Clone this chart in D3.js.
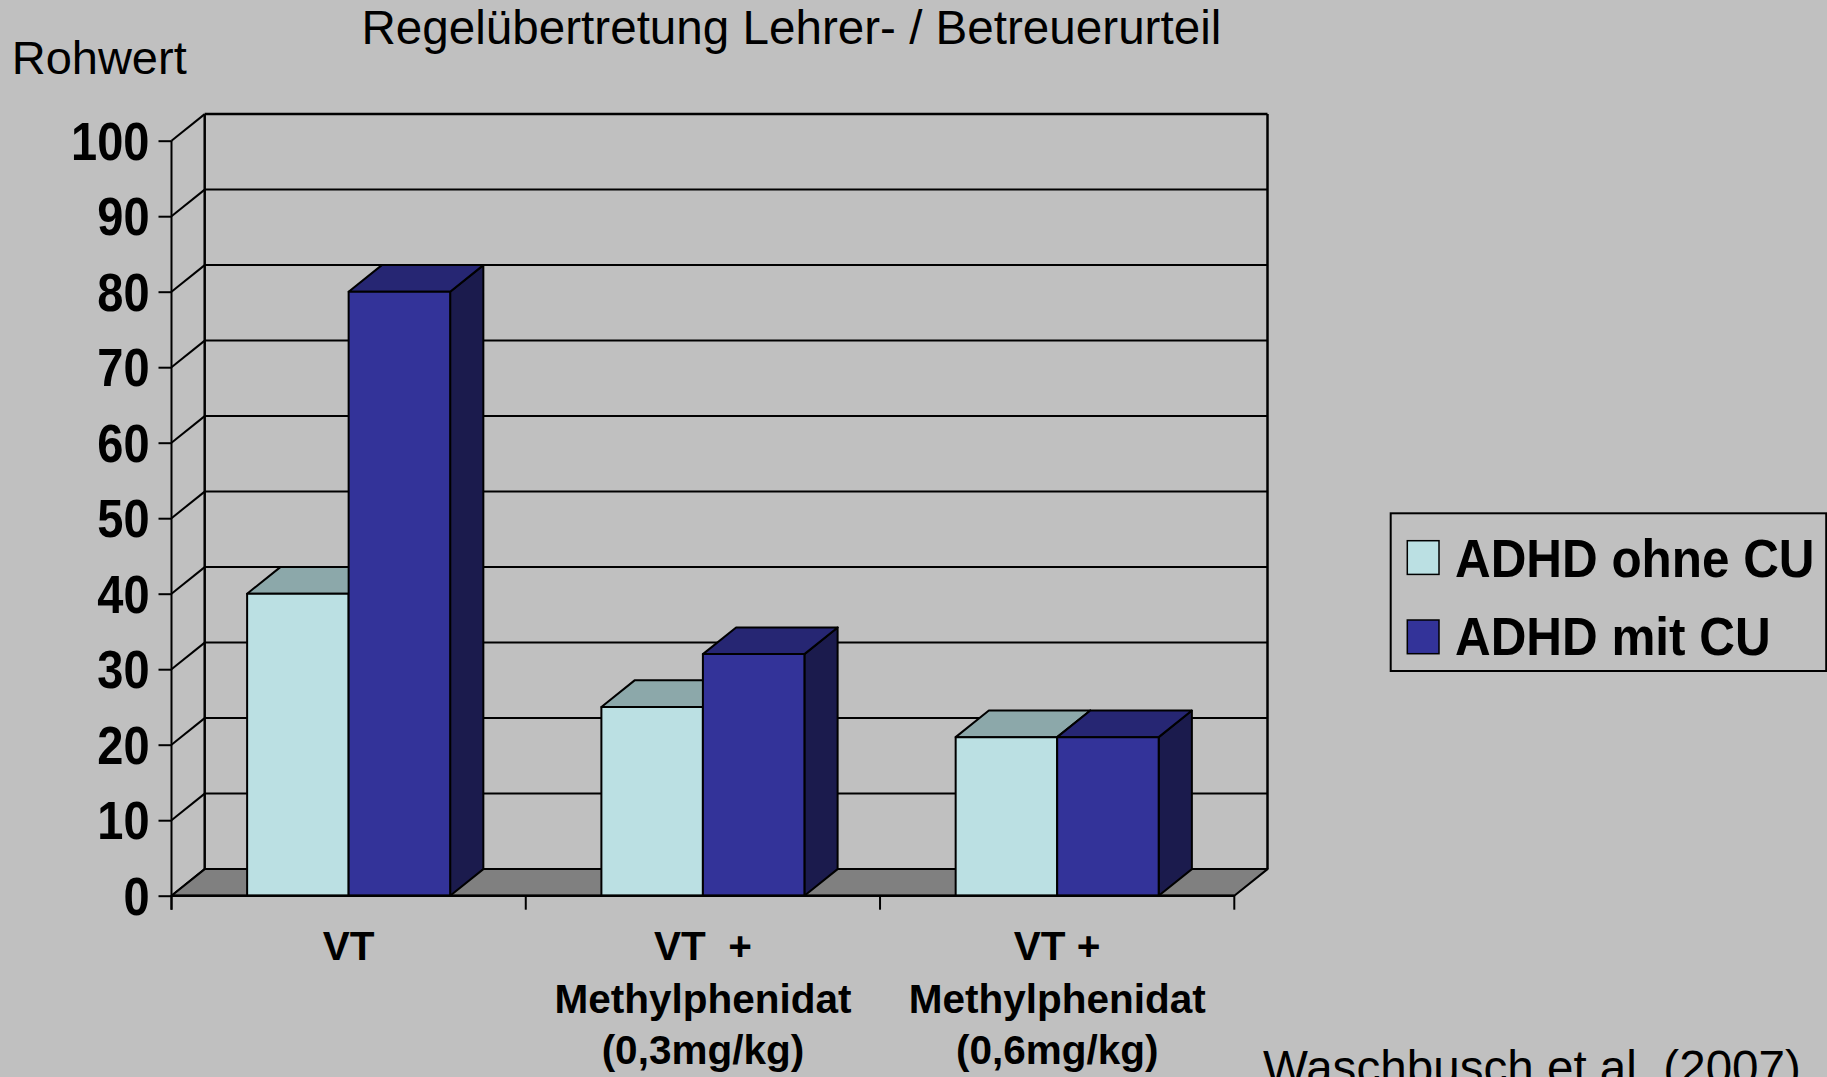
<!DOCTYPE html>
<html>
<head>
<meta charset="utf-8">
<script src="https://cdn.jsdelivr.net/npm/d3@7"></script>
<style>
  html, body { margin: 0; padding: 0; background: #c0c0c0; }
  svg { display: block; font-family: "Liberation Sans", Arial, sans-serif; }
</style>
</head>
<body>
<svg id="chart" width="1827" height="1077"></svg>
<script>
// chart data
var categoryLabels = [
    ["VT"],
    ["VT  +", "Methylphenidat", "(0,3mg/kg)"],
    ["VT +", "Methylphenidat", "(0,6mg/kg)"]
];
var seriesNames = ["ADHD ohne CU", "ADHD mit CU"];
var ohneCU = [40, 25, 21];
var mitCU = [80, 32, 21];
var yTicks = [0, 10, 20, 30, 40, 50, 60, 70, 80, 90, 100];

var titleText = "Regelübertretung Lehrer- / Betreuerurteil";
var yLabel = "Rohwert";
var sourceText = "Waschbusch et al. (2007)";

/*
 * Layout of the 3d box.
 */
var plot_left = 171.5, plot_right = 1234.3;
var plot_bottom = 895.7, plot_top = 140.7;
var depth_x = 33.2, depth_y = -26.6;

// colours: front, top, side
var colors = {
    "ADHD ohne CU": ["#bbe0e3", "#8ca8aa", "#6e8486"],
    "ADHD mit CU": ["#333399", "#262673", "#1b1b4d"]
};

var svg = d3.select("#chart");

var y = d3.scaleLinear().domain([0, 100]).range([plot_bottom, plot_top]);
var x = d3.scaleBand()
    .domain(d3.range(categoryLabels.length))
    .range([plot_left, plot_right])
    .padding(0);
var xs = d3.scaleBand()
    .domain(seriesNames)
    .range([0, x.bandwidth()])
    .paddingInner(0)
    .paddingOuter(0.745);

// back wall grid lines
svg.selectAll()
    .data(yTicks)
    .enter()
    .append("line")
    .attr("x1", plot_left + depth_x)
    .attr("x2", plot_right + depth_x)
    .attr("y1", function(d) { return y(d) + depth_y; })
    .attr("y2", function(d) { return y(d) + depth_y; })
    .attr("stroke", "#000")
    .attr("stroke-width", function(d) { return d == 100 ? 2.5 : 2; });

// left wall diagonals
svg.selectAll()
    .data(yTicks)
    .enter()
    .append("line")
    .attr("x1", plot_left)
    .attr("x2", plot_left + depth_x)
    .attr("y1", function(d) { return y(d); })
    .attr("y2", function(d) { return y(d) + depth_y; })
    .attr("stroke", "#000")
    .attr("stroke-width", 2);

// back wall edges
[plot_left + depth_x, plot_right + depth_x].forEach(function(xx) {
    svg.append("line")
        .attr("x1", xx).attr("x2", xx)
        .attr("y1", y(100) + depth_y)
        .attr("y2", y(0) + depth_y)
        .attr("stroke", "#000")
        .attr("stroke-width", 2.5);
});

// floor
svg.append("polygon")
    .attr("points", [
        [plot_left, y(0)], [plot_right, y(0)],
        [plot_right + depth_x, y(0) + depth_y], [plot_left + depth_x, y(0) + depth_y]
    ].join(" "))
    .attr("fill", "#808080")
    .attr("stroke", "#000")
    .attr("stroke-width", 2)
    .attr("stroke-linejoin", "round");

// bars
var barData = [];
categoryLabels.forEach(function(c, i) {
    barData.push({cat: i, series: seriesNames[0], value: ohneCU[i]});
    barData.push({cat: i, series: seriesNames[1], value: mitCU[i]});
});

var w = xs.bandwidth();
barData.forEach(function(d) {
    var bx = x(d.cat) + xs(d.series);
    var by = y(d.value);
    var b0 = y(0);
    var col = colors[d.series];
    var g = svg.append("g")
        .attr("stroke", "#000")
        .attr("stroke-width", 2)
        .attr("stroke-linejoin", "round");

    // side
    g.append("polygon")
        .attr("points", [
            [bx + w, b0], [bx + w, by],
            [bx + w + depth_x, by + depth_y], [bx + w + depth_x, b0 + depth_y]
        ].join(" "))
        .attr("fill", col[2]);
    // top
    g.append("polygon")
        .attr("points", [
            [bx, by], [bx + w, by],
            [bx + w + depth_x, by + depth_y], [bx + depth_x, by + depth_y]
        ].join(" "))
        .attr("fill", col[1]);
    // front
    g.append("rect")
        .attr("x", bx)
        .attr("y", by)
        .attr("width", w)
        .attr("height", b0 - by)
        .attr("fill", col[0]);
});

// front floor edge
svg.append("line")
    .attr("x1", plot_left).attr("x2", plot_right)
    .attr("y1", y(0)).attr("y2", y(0))
    .attr("stroke", "#000")
    .attr("stroke-width", 2.5);

// value axis
var yAxis = svg.append("g")
    .attr("transform", "translate(" + plot_left + ",0)")
    .call(d3.axisLeft(y).tickValues(yTicks).tickSize(13).tickSizeOuter(0));
yAxis.select(".domain").remove();
yAxis.selectAll(".tick line").attr("stroke", "#000").attr("stroke-width", 2);
yAxis.selectAll(".tick text")
    .attr("font-family", "\"Liberation Sans\", Arial, sans-serif")
    .attr("font-size", 54)
    .attr("font-weight", "bold")
    .attr("fill", "#000")
    .attr("transform", "scale(0.87,1)")
    .attr("x", -22 / 0.87)
    .attr("dy", "0.34em");

svg.append("line")
    .attr("x1", plot_left).attr("x2", plot_left)
    .attr("y1", y(100))
    .attr("y2", y(0) + 14)
    .attr("stroke", "#000")
    .attr("stroke-width", 2);

// category ticks
var catEdges = x.domain().map(function(i) { return x(i); }).concat([plot_right]);
svg.selectAll()
    .data(catEdges)
    .enter()
    .append("line")
    .attr("x1", function(d) { return d; })
    .attr("x2", function(d) { return d; })
    .attr("y1", y(0))
    .attr("y2", y(0) + 14)
    .attr("stroke", "#000")
    .attr("stroke-width", 2);

// category labels
var lineY = [959.5, 1013.3, 1064];
svg.selectAll()
    .data(categoryLabels)
    .enter()
    .append("text")
    .attr("text-anchor", "middle")
    .attr("font-size", 40.5)
    .attr("font-weight", "bold")
    .style("white-space", "pre")
    .attr("fill", "#000")
    .each(function(d, i) {
        var t = d3.select(this);
        d.forEach(function(line, j) {
            t.append("tspan")
                .attr("x", x(i) + x.bandwidth() / 2)
                .attr("y", lineY[j])
                .text(line);
        });
    });

// titles
svg.append("text")
    .attr("x", 791.4)
    .attr("y", 43.5)
    .attr("text-anchor", "middle")
    .attr("font-size", 47.6)
    .attr("fill", "#000")
    .text(titleText);

svg.append("text")
    .attr("x", 11.7)
    .attr("y", 74)
    .attr("font-size", 47)
    .attr("fill", "#000")
    .text(yLabel);

svg.append("text")
    .attr("x", 1263)
    .attr("y", 1084)
    .attr("font-size", 47.6)
    .attr("fill", "#000")
    .text(sourceText);

// legend
var legend = svg.append("g");
legend.append("rect")
    .attr("x", 1390.7)
    .attr("y", 513.3)
    .attr("width", 435.5)
    .attr("height", 157.7)
    .attr("fill", "none")
    .attr("stroke", "#000")
    .attr("stroke-width", 2);

var legendY = [540.7, 620];
var legendBase = [577.3, 655];
seriesNames.forEach(function(s, i) {
    legend.append("rect")
        .attr("x", 1407.3)
        .attr("y", legendY[i])
        .attr("width", 31.7)
        .attr("height", 33.7)
        .attr("fill", colors[s][0])
        .attr("stroke", "#000")
        .attr("stroke-width", 1.5);
    legend.append("text")
        .attr("transform", "translate(1455," + legendBase[i] + ") scale(0.915,1)")
        .attr("font-size", 54)
        .attr("font-weight", "bold")
        .attr("fill", "#000")
        .text(s);
});
</script>
</body>
</html>
